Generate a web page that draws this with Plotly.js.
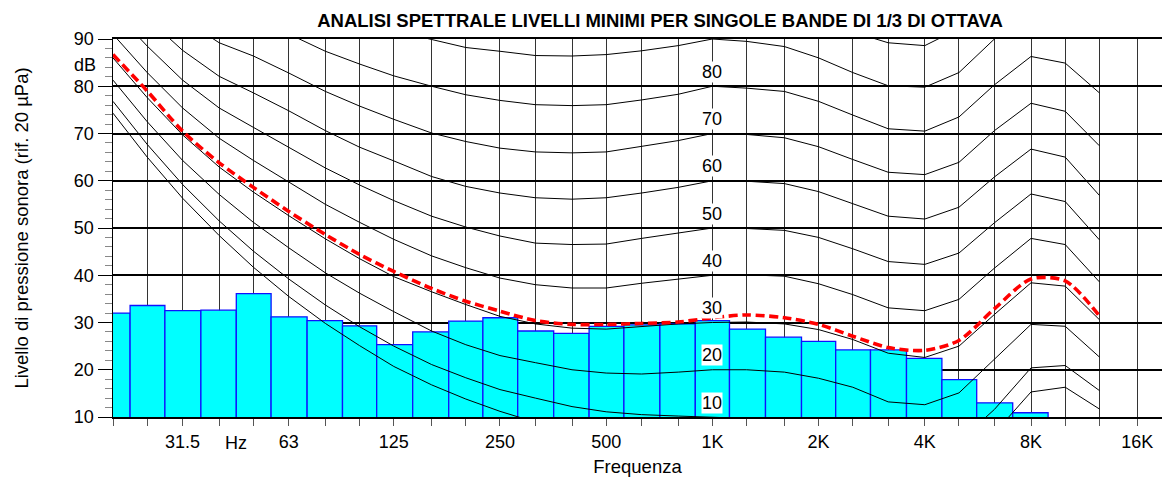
<!DOCTYPE html>
<html><head><meta charset="utf-8">
<script src="https://cdn.plot.ly/plotly-3.0.1.min.js"></script>
<style>html,body{margin:0;padding:0;background:#fff;overflow:hidden}#chart{width:1162px;height:477px}</style>
</head><body><div id="chart"></div>
<script>
// 1/3 octave band centres (Hz)
const FREQS = [20,25,31.5,40,50,63,80,100,125,160,200,250,315,400,500,630,800,1000,1250,1600,2000,2500,3150,4000,5000,6300,8000,10000,12500];
// measured spectrum (dB), bands 20 Hz .. 8 kHz
const LEVELS = [32.0,33.6,32.5,32.6,36.1,31.2,30.4,29.3,25.3,28.0,30.3,31.0,28.2,27.7,29.2,29.5,29.7,30.4,28.6,26.9,26.0,24.2,24.2,22.4,17.9,13.0,10.9];
// minimum levels curve (red dashed)
const MIN_LEVELS = [86.7,79.0,70.5,63.8,58.6,53.5,48.6,44.4,40.8,37.2,34.5,32.4,30.4,29.6,29.6,29.8,30.1,31.0,31.6,31.0,29.6,27.1,24.7,24.1,26.2,32.9,39.2,38.8,31.4];
// equal loudness contours (dB)
const THRESHOLD = [74.3,65.0,56.3,48.4,41.7,35.5,29.8,25.1,20.7,16.8,13.8,11.2,8.9,7.2,6.0,5.0,4.4,4.2,3.7,2.6,1.0,-1.2,-3.6,-3.9,-1.1,6.6,15.3,16.3,11.7];
const PHON_10 = [76.8,67.7,59.2,51.5,45.1,39.2,33.7,29.1,25.0,21.1,18.3,15.8,14.0,12.2,11.1,10.5,10.2,10.0,9.7,8.7,7.2,5.0,2.6,2.2,4.8,11.6,20.4,20.9,15.6];
const PHON_20 = [81.3,72.5,64.3,57.1,51.2,45.8,40.5,36.2,32.3,28.2,25.3,23.0,21.5,20.0,19.3,19.1,19.5,20.0,20.0,19.5,18.2,16.3,13.2,12.6,15.1,22.2,29.6,29.2,22.7];
const PHON_30 = [86.0,77.6,69.7,62.9,57.6,52.6,47.7,43.5,39.7,36.5,33.8,31.3,29.7,28.8,28.6,29.2,29.7,30.0,30.1,29.7,28.5,26.4,23.5,22.6,25.0,31.7,38.4,37.7,30.6];
const PHON_40 = [91.0,82.9,75.4,69.0,64.3,59.7,55.0,51.2,47.6,44.1,41.6,39.4,38.0,37.3,37.3,38.3,39.1,40.0,40.1,39.8,38.2,35.9,33.1,32.5,34.9,41.5,47.8,46.5,38.6];
const PHON_50 = [96.2,88.5,81.3,75.4,71.3,67.1,62.7,59.1,55.8,52.5,50.2,48.3,46.8,46.5,46.6,47.8,49.0,50.0,49.9,49.5,48.0,45.6,42.9,42.3,44.7,51.1,57.2,55.6,47.5];
const PHON_60 = [101.7,94.4,87.6,82.1,78.6,74.8,70.6,67.1,64.2,60.9,58.8,57.4,56.4,56.1,56.4,57.4,58.6,60.0,59.9,59.4,57.7,55.2,52.5,51.9,54.4,60.8,66.7,65.0,56.9];
const PHON_70 = [107.6,100.7,94.3,89.2,86.4,82.8,78.9,75.8,73.0,70.1,68.3,66.9,66.1,65.9,66.1,67.3,68.5,70.0,69.8,69.1,67.2,64.5,61.8,61.3,63.9,70.6,76.4,74.7,67.4];
const PHON_80 = [113.7,107.3,101.3,96.6,94.6,91.1,87.4,84.7,82.2,80.0,78.2,77.0,76.1,75.9,76.1,77.1,78.3,80.0,79.6,78.9,76.8,73.9,71.0,70.5,73.5,80.3,86.3,84.9,78.6];
const PHON_90 = [120.3,114.4,108.7,104.4,103.2,99.8,96.3,94.0,91.8,89.9,88.2,87.4,86.5,86.4,86.7,87.5,88.6,90.0,89.5,88.4,86.0,82.9,80.1,79.8,82.9,90.0,96.4,95.5,90.9];
const PHON_100_FREQS = [1600,2000,2500,3150,4000,5000,6300];
const PHON_100 = [97.7,94.9,91.5,89.2,88.6,92.2,99.9];
const CONTOUR_LABELS = ['10','20','30','40','50','60','70','80'];
const CONTOUR_LABEL_PHON = [10,20,30,40,50,60,70,80];
// axis ticks
const AXIS_FREQS = [20,25,31.5,40,50,63,80,100,125,160,200,250,315,400,500,630,800,1000,1250,1600,2000,2500,3150,4000,5000,6300,8000,10000,12500,16000];
const AXIS_LABELS = ['','','31.5','','','63','','','125','','','250','','','500','','','1K','','','2K','','','4K','','','8K','','','16K'];
const Y_TICKS = [10,20,30,40,50,60,70,80,90];

const FONT = '"Liberation Sans", Arial, Helvetica, sans-serif';

// bar extents: geometric midpoints between adjacent band centres
const barX = FREQS.slice(0, LEVELS.length);
const offs = [], wids = [];
barX.forEach((f, i) => {
  const lo = i > 0 ? Math.sqrt(FREQS[i-1]*f) : f*f/Math.sqrt(f*FREQS[i+1]);
  const hi = Math.sqrt(f*FREQS[i+1]);
  offs.push(lo - f); wids.push(hi - lo);
});

const traces = [{
  type: 'bar', x: barX, y: LEVELS, offset: offs, width: wids, base: 0,
  marker: {color: '#00ffff', line: {color: '#1010ff', width: 1.3}},
  hoverinfo: 'skip', showlegend: false
}];
[THRESHOLD, PHON_10, PHON_20, PHON_30, PHON_40, PHON_50, PHON_60, PHON_70, PHON_80, PHON_90].forEach(c => {
  traces.push({type: 'scatter', mode: 'lines', x: FREQS, y: c, line: {color: '#000', width: 1}, hoverinfo: 'skip', showlegend: false});
});
traces.push({type: 'scatter', mode: 'lines', x: PHON_100_FREQS, y: PHON_100, line: {color: '#000', width: 1}, hoverinfo: 'skip', showlegend: false});
traces.push({type: 'scatter', mode: 'lines', x: FREQS, y: MIN_LEVELS,
  line: {color: '#ff0000', width: 3.6, dash: '9px,4.5px', shape: 'spline', smoothing: 0.8}, hoverinfo: 'skip', showlegend: false});

const annotations = CONTOUR_LABELS.map((t, i) => ({
  text: t, x: Math.log10(1000), y: CONTOUR_LABEL_PHON[i], xref: 'x', yref: 'y', yshift: 14.5,
  showarrow: false, bgcolor: '#ffffff', borderpad: 0, font: {family: FONT, size: 18, color: '#000'}
}));
annotations.push({text: 'dB', xref: 'paper', x: 0, xanchor: 'right', xshift: -15, yref: 'y', y: 84.6,
  showarrow: false, font: {family: FONT, size: 18, color: '#000'}});
annotations.push({text: 'Hz', xref: 'x', x: Math.log10(44.5), yref: 'paper', y: 0, yanchor: 'middle', yshift: -26,
  showarrow: false, font: {family: FONT, size: 18, color: '#000'}});

const layout = {
  width: 1162, height: 477,
  margin: {l: 113, r: 0, t: 39, b: 60, pad: 0},
  paper_bgcolor: '#fff', plot_bgcolor: '#fff',
  showlegend: false,
  title: {text: 'ANALISI SPETTRALE LIVELLI MINIMI PER SINGOLE BANDE DI 1/3 DI OTTAVA',
    font: {family: FONT, size: 18.5, color: '#000', weight: 'bold'},
    x: 660/1162, xref: 'container', xanchor: 'center', y: 1 - 21/477, yref: 'container', yanchor: 'middle'},
  xaxis: {
    type: 'log', range: [Math.log10(20), Math.log10(20) + 1049/352.8],
    tickmode: 'array', tickvals: AXIS_FREQS, ticktext: AXIS_LABELS,
    ticks: 'outside', ticklen: 7, tickwidth: 1, tickcolor: '#555',
    showgrid: true, gridcolor: '#333', gridwidth: 1,
    showline: true, linecolor: '#000', linewidth: 2, mirror: true, layer: 'below traces',
    zeroline: false, tickfont: {family: FONT, size: 18, color: '#000'},
    title: {text: 'Frequenza', font: {family: FONT, size: 18.5, color: '#000'}, standoff: 10},
    automargin: false, fixedrange: true
  },
  yaxis: {
    range: [10, 90], tickmode: 'array', tickvals: Y_TICKS,
    ticks: 'outside', ticklen: 14, tickwidth: 1, tickcolor: '#000',
    minor: {dtick: 2, tick0: 10, ticks: 'outside', ticklen: 7, tickwidth: 1, tickcolor: '#888', showgrid: false},
    showgrid: true, gridcolor: '#000', gridwidth: 2,
    showline: true, linecolor: '#000', linewidth: 1.5, layer: 'above traces',
    zeroline: false, tickfont: {family: FONT, size: 18, color: '#000'},
    title: {text: 'Livello di pressione sonora (rif. 20 µPa)', font: {family: FONT, size: 18.5, color: '#000'}, standoff: 40},
    automargin: false, fixedrange: true
  },
  annotations: annotations
};
Plotly.newPlot('chart', traces, layout, {displayModeBar: false, staticPlot: true});
</script></body></html>
